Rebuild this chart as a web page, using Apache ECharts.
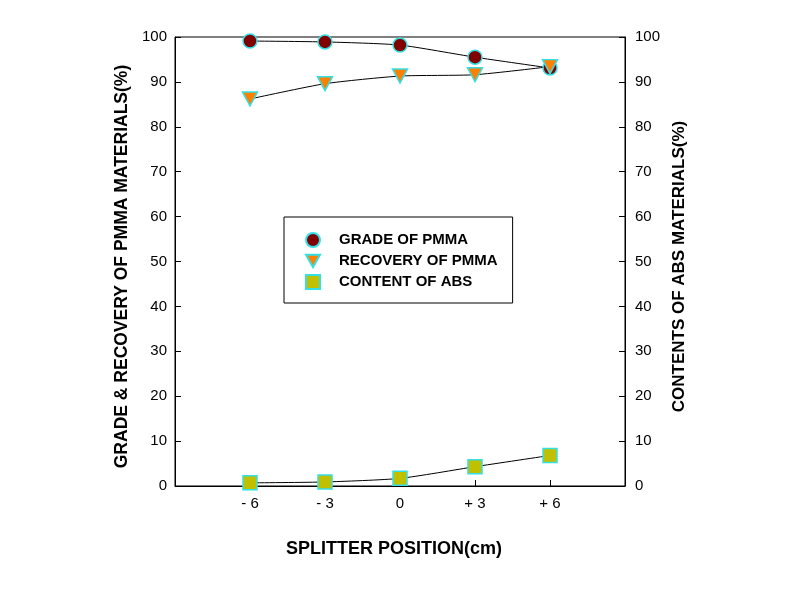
<!DOCTYPE html>
<html>
<head>
<meta charset="UTF-8">
<script src="https://cdn.jsdelivr.net/npm/echarts@6/dist/echarts.min.js"></script>
<style>
  html, body { margin: 0; padding: 0; background: #fff; }
  #main { width: 786px; height: 610px; }
</style>
</head>
<body>
<div id="main"></div>
<script>
  // splitter position (cm)
  var positions = [-6, -3, 0, 3, 6];
  var gradePMMA = [99.1, 98.9, 98.2, 95.5, 93.1];
  var recoveryPMMA = [86.2, 89.6, 91.3, 91.6, 93.4];
  var contentABS = [0.7, 0.9, 1.7, 4.3, 6.8];
  var posLabels = { '-6': '- 6', '-3': '- 3', '0': '0', '3': '+ 3', '6': '+ 6' };

  var triDown = 'path://M0,0 L10,0 L5,9 Z';
  var font = 'Liberation Sans, Arial, sans-serif';

  function pairs(vals) {
    return positions.map(function (p, i) { return [p, vals[i]]; });
  }

  var chart = echarts.init(document.getElementById('main'));
  chart.setOption({
    animation: false,
    grid: { left: 175, right: 161, top: 37, bottom: 124, show: true, borderColor: '#000', borderWidth: 1 },
    legend: {
      orient: 'vertical',
      left: 284, top: 217,
      padding: [15, 15, 13, 21],
      itemWidth: 14, itemHeight: 14, itemGap: 5.5,
      borderColor: '#000', borderWidth: 1,
      textStyle: { fontFamily: font, fontWeight: 'bold', fontSize: 15, color: '#000', padding: [0, 0, 0, 14] },
      data: [
        { name: 'GRADE OF PMMA', icon: 'circle' },
        { name: 'RECOVERY OF PMMA', icon: triDown },
        { name: 'CONTENT OF ABS', icon: 'rect' }
      ]
    },
    xAxis: {
      type: 'value', min: -9, max: 9, interval: 3,
      name: 'SPLITTER POSITION(cm)', nameLocation: 'middle', nameGap: 54,
      nameTextStyle: { fontFamily: font, fontWeight: 'bold', fontSize: 18, color: '#000', padding: [0, 12, 0, 0] },
      axisLine: { lineStyle: { color: '#000' } },
      axisTick: { inside: true, length: 6, lineStyle: { color: '#000' } },
      axisLabel: {
        fontFamily: font, fontSize: 15, color: '#000', margin: 10,
        formatter: function (v) { return posLabels[v] !== undefined ? posLabels[v] : ''; }
      },
      splitLine: { show: false }
    },
    yAxis: [{
      type: 'value', min: 0, max: 100, interval: 10,
      name: 'GRADE & RECOVERY OF PMMA MATERIALS(%)', nameLocation: 'middle', nameGap: 44,
      nameTextStyle: { fontFamily: font, fontWeight: 'bold', fontSize: 17.5, color: '#000', padding: [0, 10, 0, 0] },
      axisLine: { show: true, onZero: false, lineStyle: { color: '#000' } },
      axisTick: { inside: true, length: 6, lineStyle: { color: '#000' } },
      axisLabel: { fontFamily: font, fontSize: 15, color: '#000', margin: 8 },
      splitLine: { show: false }
    }, {
      type: 'value', min: 0, max: 100, interval: 10, position: 'right',
      name: 'CONTENTS OF ABS MATERIALS(%)', nameLocation: 'middle', nameGap: 40,
      nameRotate: 90,
      nameTextStyle: { fontFamily: font, fontWeight: 'bold', fontSize: 17, color: '#000', padding: [0, 10, 0, 0] },
      axisLine: { show: true, onZero: false, lineStyle: { color: '#000' } },
      axisTick: { inside: true, length: 6, lineStyle: { color: '#000' } },
      axisLabel: { fontFamily: font, fontSize: 15, color: '#000', margin: 10 },
      splitLine: { show: false }
    }],
    series: [{
      name: 'GRADE OF PMMA', type: 'line', smooth: 0.2,
      data: pairs(gradePMMA),
      symbol: 'circle', symbolSize: 14,
      lineStyle: { color: '#000', width: 1 },
      itemStyle: { color: '#800000', borderColor: '#33e0e6', borderWidth: 1.5 }
    }, {
      name: 'RECOVERY OF PMMA', type: 'line', smooth: 0.2,
      data: pairs(recoveryPMMA),
      symbol: triDown, symbolSize: [15, 14],
      lineStyle: { color: '#000', width: 1 },
      itemStyle: { color: '#ff8000', borderColor: '#33e0e6', borderWidth: 1.5 }
    }, {
      name: 'CONTENT OF ABS', type: 'line', smooth: 0.2, yAxisIndex: 1,
      data: pairs(contentABS),
      symbol: 'rect', symbolSize: 14,
      lineStyle: { color: '#000', width: 1 },
      itemStyle: { color: '#c0c000', borderColor: '#33e0e6', borderWidth: 1.5 }
    }]
  });
</script>
</body>
</html>
